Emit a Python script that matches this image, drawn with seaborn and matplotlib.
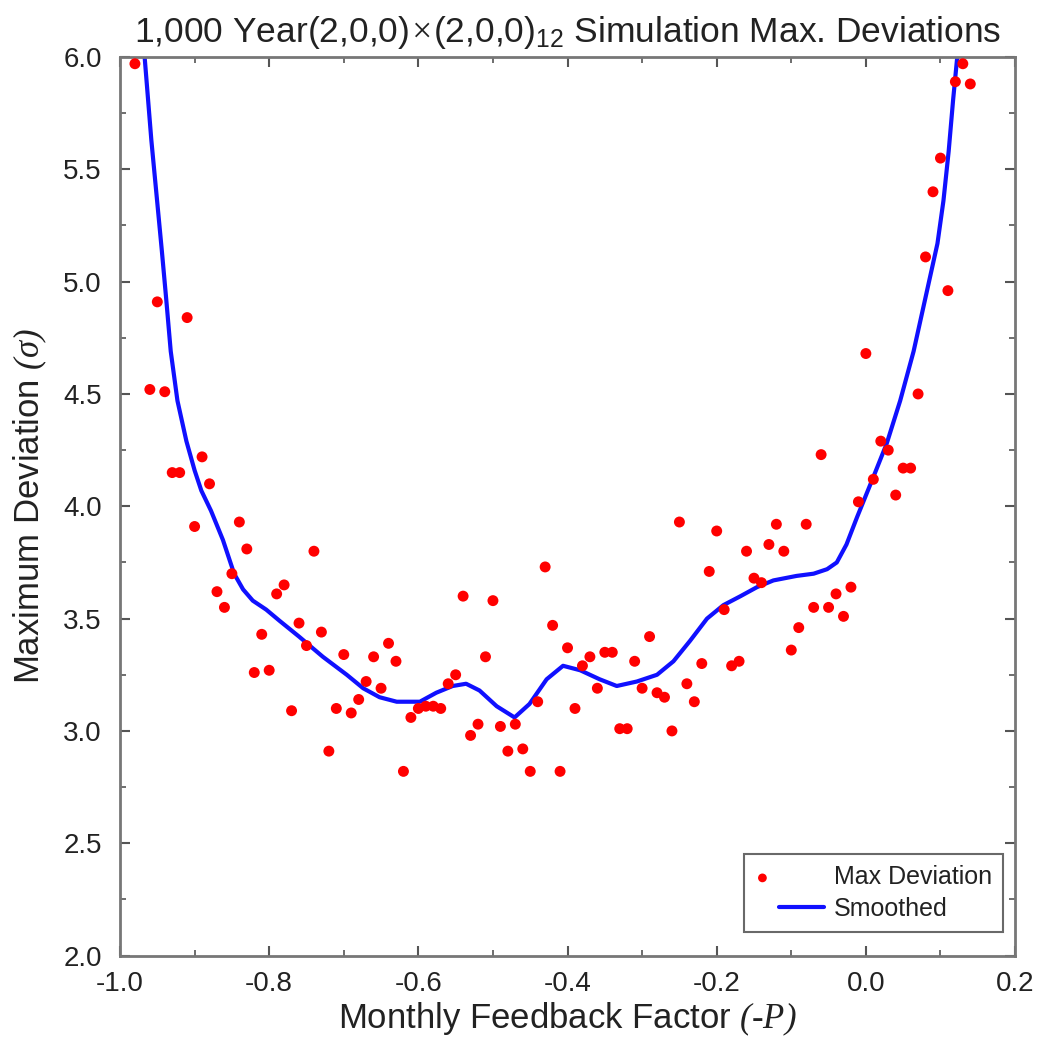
import numpy as np
import pandas as pd
import matplotlib.pyplot as plt
import seaborn as sns
from matplotlib.ticker import MultipleLocator
from matplotlib.legend_handler import HandlerPathCollection, HandlerLine2D

# feedback factors and max deviations
fb = [-0.98, -0.96, -0.95, -0.94, -0.93, -0.92, -0.91, -0.90, -0.89, -0.88,
      -0.87, -0.86, -0.85, -0.84, -0.83, -0.82, -0.81, -0.80, -0.79, -0.78,
      -0.77, -0.76, -0.75, -0.74, -0.73, -0.72, -0.71, -0.70, -0.69, -0.68,
      -0.67, -0.66, -0.65, -0.64, -0.63, -0.62, -0.61, -0.60, -0.59, -0.58,
      -0.57, -0.56, -0.55, -0.54, -0.53, -0.52, -0.51, -0.50, -0.49, -0.48,
      -0.47, -0.46, -0.45, -0.44, -0.43, -0.42, -0.41, -0.40, -0.39, -0.38,
      -0.37, -0.36, -0.35, -0.34, -0.33, -0.32, -0.31, -0.30, -0.29, -0.28,
      -0.27, -0.26, -0.25, -0.24, -0.23, -0.22, -0.21, -0.20, -0.19, -0.18,
      -0.17, -0.16, -0.15, -0.14, -0.13, -0.12, -0.11, -0.10, -0.09, -0.08,
      -0.07, -0.06, -0.05, -0.04, -0.03, -0.02, -0.01, 0.00, 0.01, 0.02,
      0.03, 0.04, 0.05, 0.06, 0.07, 0.08, 0.09, 0.10, 0.11, 0.12, 0.13, 0.14]
max_dev = [5.97, 4.52, 4.91, 4.51, 4.15, 4.15, 4.84, 3.91, 4.22, 4.10,
           3.62, 3.55, 3.70, 3.93, 3.81, 3.26, 3.43, 3.27, 3.61, 3.65,
           3.09, 3.48, 3.38, 3.80, 3.44, 2.91, 3.10, 3.34, 3.08, 3.14,
           3.22, 3.33, 3.19, 3.39, 3.31, 2.82, 3.06, 3.10, 3.11, 3.11,
           3.10, 3.21, 3.25, 3.60, 2.98, 3.03, 3.33, 3.58, 3.02, 2.91,
           3.03, 2.92, 2.82, 3.13, 3.73, 3.47, 2.82, 3.37, 3.10, 3.29,
           3.33, 3.19, 3.35, 3.35, 3.01, 3.01, 3.31, 3.19, 3.42, 3.17,
           3.15, 3.00, 3.93, 3.21, 3.13, 3.30, 3.71, 3.89, 3.54, 3.29,
           3.31, 3.80, 3.68, 3.66, 3.83, 3.92, 3.80, 3.36, 3.46, 3.92,
           3.55, 4.23, 3.55, 3.61, 3.51, 3.64, 4.02, 4.68, 4.12, 4.29,
           4.25, 4.05, 4.17, 4.17, 4.50, 5.11, 5.40, 5.55, 4.96, 5.89, 5.97, 5.88]

# smoothed curve
smooth_x = [-0.967, -0.958, -0.944, -0.938, -0.932, -0.923, -0.911, -0.900, -0.891,
            -0.878, -0.862, -0.847, -0.835, -0.822, -0.804, -0.786, -0.760, -0.728,
            -0.696, -0.674, -0.652, -0.629, -0.607, -0.598, -0.576, -0.554, -0.536,
            -0.518, -0.495, -0.471, -0.451, -0.428, -0.406, -0.383, -0.357, -0.334,
            -0.307, -0.280, -0.258, -0.236, -0.213, -0.191, -0.168, -0.146, -0.124,
            -0.093, -0.070, -0.052, -0.039, -0.026, -0.012, -0.001, 0.010, 0.028,
            0.046, 0.064, 0.082, 0.096, 0.104, 0.111, 0.117, 0.1225]
smooth_y = [6.00, 5.63, 5.14, 4.92, 4.69, 4.47, 4.29, 4.16, 4.07,
            3.98, 3.85, 3.70, 3.63, 3.58, 3.54, 3.49, 3.42, 3.33,
            3.25, 3.19, 3.15, 3.13, 3.13, 3.13, 3.17, 3.20, 3.21,
            3.18, 3.11, 3.06, 3.12, 3.23, 3.29, 3.27, 3.23, 3.20,
            3.22, 3.25, 3.31, 3.40, 3.50, 3.56, 3.60, 3.64, 3.67,
            3.69, 3.70, 3.72, 3.75, 3.83, 3.95, 4.04, 4.13, 4.28,
            4.47, 4.69, 4.96, 5.17, 5.36, 5.58, 5.81, 6.00]

pts = pd.DataFrame({'x': fb, 'y': max_dev})
sm = pd.DataFrame({'x': smooth_x, 'y': smooth_y})


# Mathematica style legend: dot at the far left, short line on the right
class LeftDot(HandlerPathCollection):
    def get_xdata(self, legend, xdescent, ydescent, width, height, fontsize):
        x = [-xdescent + 0.3 * fontsize]
        return x, x


class RightLine(HandlerLine2D):
    def get_xdata(self, legend, xdescent, ydescent, width, height, fontsize):
        x = [-xdescent + 0.95 * fontsize, -xdescent + width]
        return x, x


sns.set_style('ticks')
plt.rcParams['font.family'] = ['Liberation Sans', 'DejaVu Sans']
plt.rcParams['mathtext.fontset'] = 'custom'
plt.rcParams['mathtext.rm'] = 'Liberation Serif:italic'
plt.rcParams['mathtext.it'] = 'Liberation Serif:italic'
plt.rcParams['mathtext.sf'] = 'Liberation Sans'

fig = plt.figure(figsize=(10.4, 10.44), dpi=100)
ax = fig.add_axes([0.1154, 0.0847, 0.8606, 0.8607])

sns.scatterplot(data=pts, x='x', y='y', color='red', s=62, edgecolor='none',
                label='Max Deviation', ax=ax, zorder=3)
sns.lineplot(data=sm, x='x', y='y', color='#1010ff', linewidth=3, sort=False,
             label='Smoothed', ax=ax, zorder=2, solid_joinstyle='round')

ax.set_xlim(-1.0, 0.2)
ax.set_ylim(2.0, 6.0)
ax.xaxis.set_major_locator(MultipleLocator(0.2))
ax.xaxis.set_minor_locator(MultipleLocator(0.1))
ax.yaxis.set_major_locator(MultipleLocator(0.5))
ax.yaxis.set_minor_locator(MultipleLocator(0.25))
ax.set_xticklabels([f'{v:.1f}' for v in ax.get_xticks()])
ax.set_yticklabels([f'{v:.1f}' for v in ax.get_yticks()])
ax.tick_params(which='both', direction='in', top=True, right=True,
               color='#555555', labelsize=20, labelcolor='#222222')
ax.tick_params(which='major', length=7, width=1.5)
ax.tick_params(which='minor', length=4, width=1.2)
ax.tick_params(axis='y', which='both', pad=13)
ax.tick_params(axis='x', which='both', pad=11)
for s in ax.spines.values():
    s.set_color('#777777')
    s.set_linewidth(2)

ax.set_xlabel('Monthly Feedback Factor $(\\text{-}P)$', fontsize=25,
              color='#222222', labelpad=3)
ax.set_ylabel('Maximum Deviation $(\\sigma)$', fontsize=25, color='#222222',
              labelpad=10)
ax.set_title('1,000 Year(2,0,0)$\\times$(2,0,0)$_{\\mathsf{12}}$ Simulation Max. Deviations',
             fontsize=25.5, color='#222222', pad=11)

leg = ax.legend(loc='lower right', fontsize=18, frameon=True, fancybox=False,
                edgecolor='#444444', handlelength=2.75, handletextpad=0.4,
                borderpad=0.45, borderaxespad=0, labelspacing=0.3,
                bbox_to_anchor=(0.9866, 0.026), markerscale=0.8,
                handler_map={type(ax.collections[0]): LeftDot(),
                             type(ax.lines[0]): RightLine()})
leg.get_frame().set_linewidth(1.5)
for t in leg.get_texts():
    t.set_color('#222222')

plt.savefig('out.png', dpi=100)
